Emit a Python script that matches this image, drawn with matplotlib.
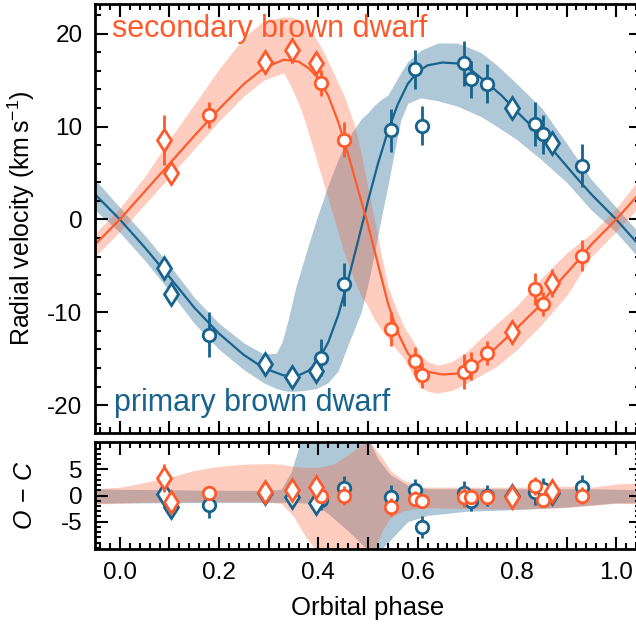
import numpy as np
import matplotlib
matplotlib.use("Agg")
import matplotlib.pyplot as plt
from matplotlib.ticker import MultipleLocator, FixedLocator, FuncFormatter

plt.rcParams['font.family'] = ['Liberation Sans', 'DejaVu Sans']
plt.rcParams['mathtext.fontset'] = 'custom'
plt.rcParams['mathtext.rm'] = 'Liberation Sans'
plt.rcParams['mathtext.it'] = 'Liberation Sans:italic'
plt.rcParams['axes.unicode_minus'] = False

ORANGE = "#fe5a2b"
BLUE = "#17638d"

# observed epochs (orbital phase), marker type per epoch
obs_phase = [0.089, 0.104, 0.179, 0.292, 0.347, 0.396, 0.406, 0.451, 0.546, 0.595,
             0.609, 0.693, 0.708, 0.740, 0.790, 0.837, 0.853, 0.870, 0.931]
obs_diamond = [1, 1, 0, 1, 1, 1, 0, 0, 0, 0, 0, 0, 0, 0, 1, 0, 0, 1, 0]

# secondary brown dwarf (orange) radial velocities
sec_rv = [8.6, 5.0, 11.2, 17.0, 18.2, 16.8, 14.7, 8.6, -11.8, -15.2,
          -16.8, -16.4, -15.8, -14.4, -12.1, -7.5, -9.1, -6.8, -3.9]
sec_err = [2.7, 1.0, 1.4, 1.0, 1.3, 1.0, 1.4, 1.9, 1.8, 1.5,
           1.3, 1.9, 1.5, 1.3, 1.3, 1.7, 1.3, 1.5, 1.7]
sec_res = [3.4, -1.3, 0.5, 0.6, 1.0, 1.6, 0.0, 0.0, -2.2, -0.6,
           -1.1, -0.3, -0.2, -0.2, -0.2, 1.8, -0.8, 0.8, 0.0]

# primary brown dwarf (blue) radial velocities
pri_rv = [-5.2, -8.0, -12.4, -15.6, -17.0, -16.3, -14.9, -7.0, 9.6, 16.2,
          10.1, 16.8, 15.1, 14.6, 12.0, 10.3, 9.2, 8.2, 5.8]
pri_err = [1.0, 1.0, 2.4, 1.0, 1.0, 1.0, 2.0, 2.3, 2.3, 2.1,
           2.1, 2.4, 2.0, 2.1, 1.0, 2.4, 2.1, 1.0, 2.3]
pri_res = [0.2, -2.2, -1.9, 0.4, -0.3, -1.4, -0.8, 1.4, -0.3, 1.0,
           -6.0, 0.4, -1.0, 0.0, 0.0, 0.6, 1.2, 0.5, 1.7]

# best-fit orbit curves
model_phase = [-0.05, 0.00, 0.05, 0.10, 0.15, 0.20, 0.25, 0.29, 0.33, 0.36, 0.38, 0.40,
               0.42, 0.44, 0.46, 0.48, 0.50, 0.52, 0.54, 0.56, 0.58, 0.60, 0.62, 0.65,
               0.68, 0.71, 0.74, 0.77, 0.80, 0.84, 0.88, 0.92, 0.95, 1.00, 1.05]
sec_model = [-2.7, 0.0, 3.0, 6.0, 9.0, 11.9, 14.6, 16.3, 17.2, 17.0, 16.3, 15.2,
             13.3, 10.5, 7.0, 3.2, -0.6, -4.8, -9.0, -12.2, -14.4, -15.7, -16.4, -16.7,
             -16.6, -15.9, -14.7, -13.2, -11.7, -9.6, -7.0, -4.6, -2.7, 0.0, 3.0]
pri_model = [2.7, 0.0, -3.0, -6.2, -9.5, -12.3, -14.6, -16.0, -16.8, -16.8, -16.3, -15.2,
             -13.2, -10.3, -6.5, -2.3, 2.0, 6.0, 9.5, 12.4, 14.6, 15.9, 16.6, 16.9,
             16.8, 16.0, 14.7, 13.3, 11.6, 9.5, 7.0, 4.5, 2.7, 0.0, -3.0]

# credible bands around the orbits
sec_band_phase = [-0.05, 0.00, 0.05, 0.10, 0.15, 0.20, 0.25, 0.29, 0.33, 0.345, 0.36, 0.372,
                  0.392, 0.412, 0.432, 0.452, 0.472, 0.486, 0.499, 0.513, 0.526, 0.54, 0.56,
                  0.573, 0.593, 0.606, 0.62, 0.64, 0.67, 0.70, 0.727, 0.76, 0.80, 0.85,
                  0.90, 0.95, 1.00, 1.05]
sec_band_lo = [-4.0, -1.3, 1.6, 4.6, 7.6, 10.6, 13.3, 15.0, 15.8, 14.3, 12.5, 10.7,
               7.2, 3.6, 0.0, -3.6, -6.5, -8.2, -9.3, -10.8, -11.8, -12.8, -14.2,
               -15.0, -17.0, -18.1, -18.5, -18.7, -18.4, -17.6, -16.8, -15.8, -14.0, -11.3,
               -8.2, -4.0, -1.3, 1.6]
sec_band_hi = [-1.5, 1.2, 4.6, 8.6, 12.4, 16.2, 19.6, 21.4, 21.8, 21.8, 21.5, 21.0,
               19.8, 17.9, 15.6, 13.3, 10.3, 7.2, 3.6, 0.0, -3.6, -7.2, -10.0,
               -11.6, -13.3, -14.6, -15.3, -15.7, -15.3, -14.2, -12.8, -11.2, -9.3, -6.3,
               -3.6, -1.5, 1.2, 4.6]

pri_band_phase = [-0.05, 0.00, 0.05, 0.10, 0.15, 0.20, 0.25, 0.29, 0.315, 0.327, 0.339, 0.355,
                  0.375, 0.396, 0.419, 0.44, 0.459, 0.486, 0.50, 0.513, 0.526, 0.54, 0.553,
                  0.566, 0.58, 0.606, 0.64, 0.68, 0.727, 0.76, 0.80, 0.85, 0.90, 0.95,
                  1.00, 1.05]
pri_band_lo = [1.0, -1.4, -4.4, -7.7, -11.2, -14.0, -16.2, -17.6, -18.2, -18.4, -18.5, -18.5,
               -18.4, -18.2, -17.6, -16.3, -13.6, -10.0, -7.0, -3.6, 0.0, 3.6, 7.2,
               10.7, 12.5, 13.1, 12.8, 12.2, 11.1, 10.0, 8.6, 6.4, 4.0, 1.0,
               -1.4, -4.4]
pri_band_hi = [4.3, 1.3, -1.7, -4.9, -8.4, -11.2, -13.3, -14.5, -14.4, -13.2, -10.8, -7.2,
               -3.6, 0.0, 3.6, 6.5, 8.7, 10.8, 11.5, 12.3, 12.9, 13.4, 14.6,
               15.8, 17.0, 18.2, 19.0, 19.0, 18.0, 16.6, 14.6, 12.0, 8.2, 4.3,
               1.3, -1.7]

# bands in the residual panel
sec_rband_phase = [-0.05, 0.00, 0.05, 0.10, 0.15, 0.20, 0.25, 0.30, 0.325, 0.35, 0.375, 0.40,
                   0.43, 0.46, 0.49, 0.50, 0.51, 0.53, 0.545, 0.57, 0.61, 0.70, 0.80, 0.90,
                   0.95, 1.00, 1.05]
sec_rband_lo = [-1.6, -1.5, -1.3, -1.2, -1.2, -1.2, -1.2, -1.3, -1.5, -4.0, -8.0, -11.0,
                -11.0, -11.0, -11.0, -11.0, -11.0, -6.5, -4.2, -3.0, -2.3, -2.5, -2.6, -2.3,
                -1.9, -1.5, -1.6]
sec_rband_hi = [1.3, 1.6, 2.5, 3.5, 4.8, 5.6, 6.0, 6.1, 6.0, 5.6, 5.4, 5.4,
                6.0, 7.8, 10.0, 11.0, 9.5, 7.0, 4.8, 3.0, 1.6, 1.6, 1.6, 1.8,
                1.6, 2.2, 2.4]

pri_rband_phase = [-0.05, 0.00, 0.10, 0.20, 0.30, 0.325, 0.345, 0.366, 0.39, 0.42, 0.46, 0.50,
                   0.52, 0.545, 0.58, 0.62, 0.70, 0.80, 0.90, 0.95, 1.00, 1.05]
pri_rband_lo = [-1.5, -1.4, -1.4, -1.3, -1.3, -1.3, -1.3, -1.4, -1.5, -3.5, -6.8, -10.5,
                -11.0, -8.5, -5.0, -3.8, -3.0, -2.7, -2.2, -1.8, -1.4, -1.4]
pri_rband_hi = [1.3, 1.2, 1.1, 1.0, 1.0, 1.2, 4.5, 11.0, 11.0, 11.0, 11.0, 11.0,
                7.0, 4.0, 2.0, 1.3, 1.3, 1.3, 1.3, 1.3, 1.2, 1.1]

oc_ticks = [-5, 0, 5]

ph = np.array(obs_phase)
dia = np.array(obs_diamond, dtype=bool)


def style_axis(ax, yminor):
    ax.xaxis.set_major_locator(MultipleLocator(0.1))
    ax.xaxis.set_minor_locator(MultipleLocator(0.02))
    ax.yaxis.set_minor_locator(MultipleLocator(yminor))
    ax.tick_params(which='both', direction='in', top=True, right=True,
                   labelsize=17.5, width=1.5, pad=9)
    ax.tick_params(which='major', length=9)
    ax.tick_params(which='minor', length=4.5)
    for s in ax.spines.values():
        s.set_linewidth(2.0)
    ax.set_xlim(-0.05, 1.05)


def draw_points(ax, y, err, color, z):
    ax.errorbar(ph, y, yerr=err, fmt='none', ecolor=color, elinewidth=2.0,
                capsize=0, zorder=z)
    ax.plot(ph[~dia], np.array(y)[~dia], 'o', ms=9, mfc='white', mec=color,
            mew=2.0, zorder=z + 0.1)
    ax.plot(ph[dia], np.array(y)[dia], 'd', ms=11.5, mfc='white', mec=color,
            mew=2.0, zorder=z + 0.1)


fig = plt.figure(figsize=(6.36, 6.28), dpi=100)
ax1 = fig.add_axes([0.1494, 0.3105, 0.8585, 0.6831])
ax2 = fig.add_axes([0.1494, 0.1253, 0.8585, 0.1713])

# top panel
ax1.fill_between(pri_band_phase, pri_band_lo, pri_band_hi, color=BLUE, alpha=0.35, lw=0, zorder=1)
ax1.fill_between(sec_band_phase, sec_band_lo, sec_band_hi, color=ORANGE, alpha=0.3, lw=0, zorder=1.1)
ax1.plot(model_phase, pri_model, color=BLUE, lw=1.6, zorder=2)
ax1.plot(model_phase, sec_model, color=ORANGE, lw=1.6, zorder=2.1)
draw_points(ax1, pri_rv, pri_err, BLUE, 3)
draw_points(ax1, sec_rv, sec_err, ORANGE, 4)
style_axis(ax1, 2)
ax1.yaxis.set_major_locator(MultipleLocator(10))
ax1.set_ylim(-23, 23.2)
ax1.tick_params(labelbottom=False)
ax1.set_ylabel(r"Radial velocity (km$\,$s$^{-1}$)", fontsize=18)
ax1.yaxis.set_label_coords(-0.106, 0.5)
ax1.text(0.031, 0.923, "secondary brown dwarf", transform=ax1.transAxes,
         color=ORANGE, fontsize=22, va='baseline', ha='left', zorder=5)
ax1.text(0.034, 0.052, "primary brown dwarf", transform=ax1.transAxes,
         color=BLUE, fontsize=22, va='baseline', ha='left', zorder=5)

# residual panel
ax2.fill_between(pri_rband_phase, pri_rband_lo, pri_rband_hi, color=BLUE, alpha=0.35, lw=0, zorder=1)
ax2.fill_between(sec_rband_phase, sec_rband_lo, sec_rband_hi, color=ORANGE, alpha=0.3, lw=0, zorder=1.1)
draw_points(ax2, pri_res, pri_err, BLUE, 3)
draw_points(ax2, sec_res, sec_err, ORANGE, 4)
style_axis(ax2, 1)
ax2.yaxis.set_major_locator(FixedLocator(oc_ticks))
ax2.set_ylim(-10.3, 10.3)
ax2.xaxis.set_major_formatter(FuncFormatter(
    lambda x, pos: f"{x:.1f}" if round(x * 10) % 2 == 0 else ""))
ax2.set_ylabel(r"$O\,-\,C$", fontsize=18)
ax2.yaxis.set_label_coords(-0.106, 0.5)
ax2.set_xlabel("Orbital phase", fontsize=18.5, labelpad=9)

fig.savefig("out.png", dpi=100)
